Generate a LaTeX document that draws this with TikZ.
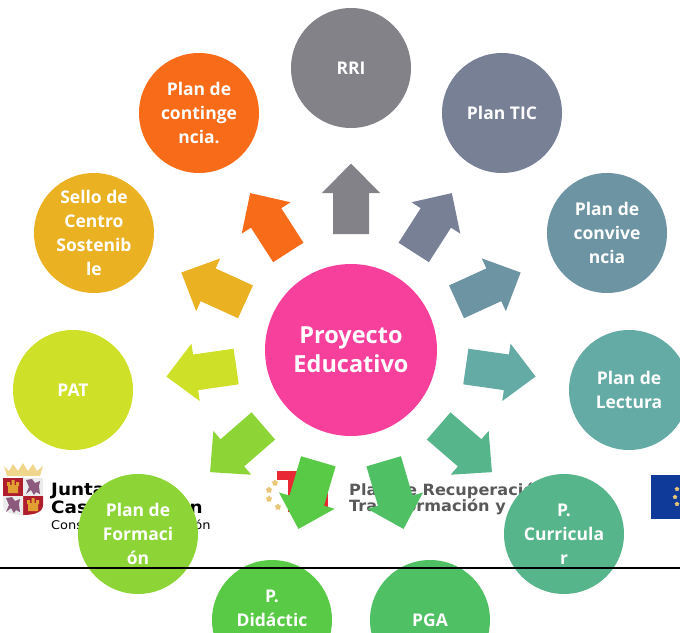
\documentclass[tikz,border=0pt]{standalone}
\usepackage{fontspec}
\setmainfont{Open Sans}
\newfontfamily\juntafont[FakeStretch=1.08]{DejaVu Sans}
\newfontfamily\planfont[FakeStretch=1.04]{DejaVu Sans}
\usepackage{xcolor}
\definecolor{colrri}{RGB}{131,130,136}
\definecolor{coltic}{RGB}{120,128,150}
\definecolor{colcon}{RGB}{108,148,163}
\definecolor{collec}{RGB}{100,171,165}
\definecolor{colcur}{RGB}{87,181,140}
\definecolor{colpga}{RGB}{79,192,99}
\definecolor{coldid}{RGB}{89,202,69}
\definecolor{colfor}{RGB}{141,212,55}
\definecolor{colpat}{RGB}{207,224,41}
\definecolor{colsel}{RGB}{234,177,34}
\definecolor{colcot}{RGB}{247,107,25}
\definecolor{colpro}{RGB}{246,64,156}
\definecolor{estrella}{RGB}{232,199,122}
\definecolor{azuleu}{RGB}{15,58,154}
\definecolor{rojot}{RGB}{232,40,50}
\definecolor{rojocl}{RGB}{176,30,45}
\definecolor{oro}{RGB}{226,160,50}
\definecolor{corona}{RGB}{240,214,140}
\definecolor{leon}{RGB}{140,90,125}
\usepackage{tikz}
\usetikzlibrary{shapes.geometric}
\newcommand{\BlockArrow}[2]{%
\fill[#1,shift={(O)},rotate=#2] (-18,-116) -- (18,-116) -- (18,-157) -- (29,-157) -- (0,-186.5) -- (-29,-157) -- (-18,-157) -- cycle;}
\newcommand{\Castillo}[2]{%
\fill[oro,shift={(#1,#2)}] (-5,5) -- (-5,-2) -- (-6,-2) -- (-6,-6) -- (-3,-6) -- (-3,-3) -- (-1.5,-3) -- (-1.5,-8) -- (1.5,-8) -- (1.5,-3) -- (3,-3) -- (3,-6) -- (6,-6) -- (6,-2) -- (5,-2) -- (5,5) -- cycle;}
\newcommand{\Leon}[2]{%
\fill[leon,shift={(#1,#2)}] (-7,-7) -- (-1,-8) -- (2,-4) -- (7,-6) -- (6,-1) -- (7,7) -- (3,5) -- (1,8) -- (-2,3) -- (-7,7) -- (-4,0) -- cycle;}

\begin{document}
\begin{tikzpicture}[x=1pt,y=-1pt]
	\tikzstyle{plan}=[circle,inner sep=0pt,minimum size=120pt,text=white,align=center,font=\fontsize{17.5}{24}\selectfont\bfseries];
	\tikzstyle{proyecto}=[plan,minimum size=172pt,font=\fontsize{23.5}{29}\selectfont\bfseries];
	\tikzstyle{logojunta}=[anchor=base west,inner sep=0pt,text=black,font=\juntafont\fontsize{17}{18}\selectfont\bfseries];
	\tikzstyle{logoplan}=[anchor=base west,inner sep=0pt,text=black!65,font=\planfont\fontsize{15.5}{16}\selectfont\bfseries];
	\tikzstyle{estrellita}=[star,star points=5,fill=estrella,inner sep=0pt,minimum size=7pt];
%<--------------------------------------------------------------------------->%

	\useasboundingbox (0,0) rectangle (680,632);
	\clip (0,0) rectangle (680,632);
	\coordinate (O) at (351,350);
	\coordinate (L) at (0,568);
	\coordinate (R) at (680,568);
	%% Logos
	\fill[corona] (4,466) -- (9,471) -- (13,464) -- (18,471) -- (23,463) -- (28,471) -- (33,464) -- (37,471) -- (43,466) -- (40,476) -- (7,476) -- cycle;
	\fill[rojocl] (3,478) rectangle (23,496);
	\fill[rojocl] (23,496) -- (43,496) -- (43,505) .. controls (43,512) and (35,515) .. (23,515) -- cycle;
	\fill[black!8] (23,478) rectangle (43,496);
	\fill[black!8] (3,496) -- (23,496) -- (23,515) .. controls (11,515) and (3,512) .. (3,505) -- cycle;
	\Castillo{13}{488};
	\Castillo{33}{506};
	\Leon{33}{487};
	\Leon{13}{505};
	\node[logojunta] (junta) at (51,495) {Junta de};
	\node[logojunta] (castilla) at (51,513) {Castilla y León};
	\node[logojunta,font=\juntafont\fontsize{12}{12}\selectfont] (consejeria) at (51,529) {Consejería de Educación};
	\fill[rojot] (277,471) rectangle (330,480);
	\fill[rojot] (288,480) rectangle (328,512);
	\node[estrellita] (s1) at (275,483) {};
	\node[estrellita] (s2) at (269,490) {};
	\node[estrellita] (s3) at (269,499) {};
	\node[estrellita] (s4) at (278,507) {};
	\node[logoplan] (recuperacion) at (349,495) {Plan de Recuperación,};
	\node[logoplan] (transformacion) at (349,511) {Transformación y};
	\fill[azuleu] (651,475) rectangle (680,519);
	\node[estrellita,minimum size=5pt] (e1) at (677,489) {};
	\node[estrellita,minimum size=5pt] (e2) at (675,497) {};
	\node[estrellita,minimum size=5pt] (e3) at (677,504) {};
	%% Flechas
	\BlockArrow{colrri}{0};
	\BlockArrow{coltic}{-32.727};
	\BlockArrow{colcon}{-65.455};
	\BlockArrow{collec}{-98.182};
	\BlockArrow{colcur}{-130.909};
	\BlockArrow{colpga}{-163.636};
	\BlockArrow{coldid}{-196.364};
	\BlockArrow{colfor}{-229.091};
	\BlockArrow{colpat}{-261.818};
	\BlockArrow{colsel}{-294.545};
	\BlockArrow{colcot}{-327.273};
	%% Final
	\node[proyecto,fill=colpro] (proyecto) at (O) {Proyecto\\Educativo};
	\node[plan,fill=colrri] (rri) at (351,68) {RRI};
	\node[plan,fill=coltic] (tic) at (502,113) {Plan TIC};
	\node[plan,fill=colcon] (convivencia) at (607,233) {Plan de\\convive\\ncia};
	\node[plan,fill=collec] (lectura) at (629,390) {Plan de\\Lectura};
	\node[plan,fill=colcur] (curricular) at (564,534) {P.\\Curricula\\r};
	\node[plan,fill=colpga] (pga) at (430,620) {PGA};
	\node[plan,fill=coldid] (didactica) at (272,620) {P.\\Didáctic\\~};
	\node[plan,fill=colfor] (formacion) at (138,534) {Plan de\\Formaci\\ón};
	\node[plan,fill=colpat] (pat) at (73,390) {PAT};
	\node[plan,fill=colsel] (sello) at (94,233) {Sello de\\Centro\\Sostenib\\le};
	\node[plan,fill=colcot] (contingencia) at (199,113) {Plan de\\continge\\ncia.};
	\draw[line width=1.6pt] (L) -- (R);
\end{tikzpicture}
\end{document}
